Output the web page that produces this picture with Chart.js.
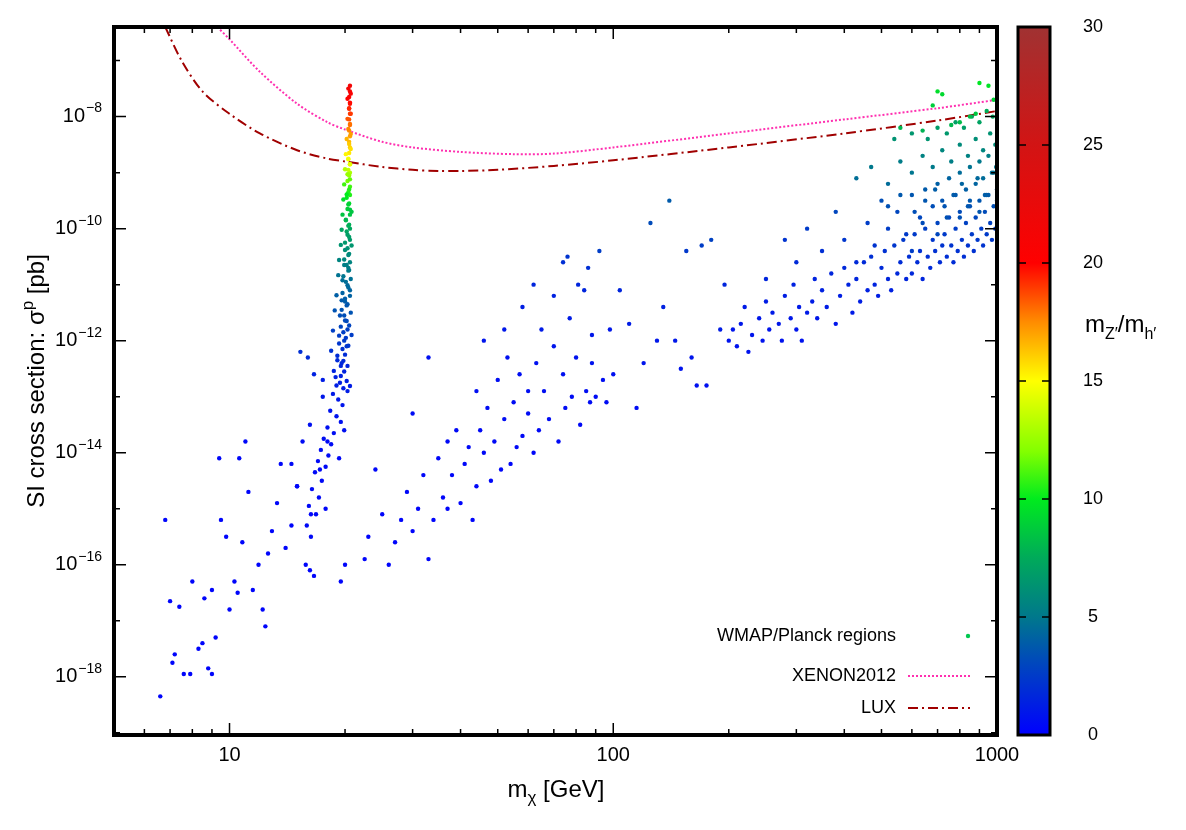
<!DOCTYPE html>
<html><head><meta charset="utf-8">
<script src="https://cdn.jsdelivr.net/npm/chart.js@4"></script>
<style>html,body{margin:0;padding:0;background:#fff}#w{width:1186px;height:830px}</style>
</head><body><div id="w"><canvas id="c"></canvas></div>
<script>
// Points: mass [GeV], log10 sigma [pb], mZ'/mh'
const bandMass = [20.6,20.6,20.5,20.6,20.5,20.6,20.5,20.6,20.5,20.6,20.5,20.6,20.5,20.4,20.6,20.4,20.5,20.3,20.6,20.4,20.2,20.5,20.3,20.6,20.1,20.4,20.2,20.5,20.0,20.3,20.5,19.9,20.2,20.4,19.8,20.1,20.4,19.7,20.0,20.3,19.6,19.9,20.2,19.5,19.8,20.1,19.3,19.7,20.0,19.1,19.5,19.9,18.9,19.4,19.8,18.6,19.2,19.7,18.3,19.0,19.5,18.0,18.7,17.6,18.4,17.3,18.1,17.0,17.8,16.7,17.4,16.4,17.1,16.1,16.8,15.9,16.3];
const bandLog = [-7.45,-7.55,-7.65,-7.75,-7.85,-7.95,-8.05,-8.15,-8.25,-8.35,-8.45,-8.55,-8.65,-8.75,-8.85,-8.95,-9.05,-9.15,-9.25,-9.35,-9.45,-9.55,-9.65,-9.75,-9.85,-9.95,-10.05,-10.15,-10.25,-10.35,-10.45,-10.55,-10.65,-10.75,-10.85,-10.95,-11.05,-11.15,-11.25,-11.35,-11.45,-11.55,-11.65,-11.75,-11.85,-11.95,-12.05,-12.15,-12.25,-12.35,-12.45,-12.55,-12.65,-12.75,-12.85,-12.95,-13.05,-13.15,-13.25,-13.35,-13.45,-13.55,-13.65,-13.75,-13.85,-13.95,-14.05,-14.15,-14.25,-14.35,-14.5,-14.65,-14.8,-14.95,-15.1,-15.3,-15.5];
const bandRatio = [21.5,21,20.5,20,19.5,19,18.5,18,17.5,17,16.5,16,15.5,15,14.5,13.5,12.5,11.8,11,10.5,10,9.5,9,8.5,8,7.6,7.2,6.9,6.6,6.3,6,5.7,5.4,5.1,4.9,4.6,4.4,4.1,3.9,3.7,3.5,3.3,3.1,2.9,2.7,2.5,2.3,2.1,1.9,1.8,1.6,1.5,1.4,1.3,1.2,1.1,1,0.9,0.8,0.8,0.7,0.7,0.6,0.6,0.5,0.5,0.5,0.4,0.4,0.4,0.4,0.4,0.4,0.4,0.4,0.4,0.4];
const band2Mass = [20.4,20.7,20.3,20.6,20.5,20.7,20.3,20.6,20.4,20.7,20.2,20.5,20.7,20.1,20.4,20.6,20.0,20.3,20.6,19.9,20.5,20.2,19.8,20.4,20.6,19.7,20.1,20.5,19.6,20.3,20.6,19.5,20.0,20.4,19.3,19.9,20.5,19.2,19.7,20.3,20.6,19.0,19.6,20.2,18.8,19.4,20.0,20.5,18.6,19.3,19.9,20.4,18.4,19.1,19.8,20.3,18.7,19.5,20.2,20.6];
const band2Log = [-7.5,-7.59,-7.68,-7.77,-7.86,-7.95,-8.04,-8.13,-8.22,-8.31,-8.4,-8.49,-8.58,-8.67,-8.76,-8.85,-8.94,-9.03,-9.12,-9.21,-9.3,-9.39,-9.48,-9.57,-9.66,-9.75,-9.84,-9.93,-10.02,-10.11,-10.2,-10.29,-10.38,-10.47,-10.56,-10.65,-10.74,-10.83,-10.92,-11.01,-11.1,-11.19,-11.28,-11.37,-11.46,-11.55,-11.64,-11.73,-11.82,-11.91,-12.0,-12.09,-12.18,-12.27,-12.36,-12.45,-12.54,-12.63,-12.72,-12.81];
const band2Ratio = [21.2,20.7,20.2,19.8,19.3,19,18.5,18,17.6,17.1,16.6,16.1,15.7,15.2,14.7,14.3,13.2,12.5,11.5,11,10.5,10,9.5,9,8.6,8.5,8,7.6,7.2,6.9,6.7,6.4,6.1,5.8,5.6,5.3,5.1,4.8,4.6,4.4,4.2,4,3.8,3.6,3.5,3.3,3.1,2.9,2.7,2.6,2.5,2.3,2.1,1.9,1.8,1.6,1.5,1.4,1.3,1.2];
const massVals = [
15.3,16.0,16.6,17.5,16.2,15.5,14.5,15.0,19.0,20.3,20.6,20.6,20.6,20.6,20.3,19.9,20.7,20.7,20.8,20.2,20.8,20.0,19.6,20.8,20.6,20.4,
6.6,6.8,7.0,7.2,7.1,7.4,7.6,7.9,8.0,8.3,8.5,8.6,8.8,9.0,9.2,9.0,9.4,9.5,9.8,10.0,10.3,10.5,10.6,11.0,11.2,10.8,11.5,11.9,12.2,12.4,12.6,12.9,13.3,13.6,14.0,14.5,15.0,15.8,16.2,16.6,16.3,17.2,17.5,18.0,19.3,19.5,20.0,17.8,
22.5,23,24,25,26,27,28,29,30,31,32,33,34,35,36,37,38,39,40,41,42,43,44,45,46,47,48,49,50,51,52,53,54,55,56,57,58,60,62,63,64,66,68,70,72,74,75,77,78,80,82,84,85,87,88,90,92,94,96,98,100,30,33,37,44,46,52,58,60,62,65,70,74,76,81,86,88,104,110,115,120,125,130,135,140,145,150,155,160,165,170,175,180,190,195,
200,205,210,215,220,225,230,240,245,250,255,260,270,275,280,290,295,300,305,310,320,330,335,340,350,360,370,380,390,400,410,420,430,440,450,460,470,480,490,500,510,520,530,540,550,560,570,580,590,600,610,620,630,640,650,660,670,680,690,700,710,720,730,740,750,760,770,780,790,800,810,820,830,840,850,860,870,880,890,900,910,920,930,940,950,960,970,980,990,1000,
250,280,300,320,350,380,400,430,460,480,500,520,550,580,600,630,650,680,700,720,750,780,800,830,850,880,900,920,950,980,
430,470,520,560,600,640,680,720,760,800,840,880,920,960,990,
540,600,660,700,740,780,820,860,900,940,975,
700,720,680,900,950,880,800,760,980,850,640,560,
520,560,610,650,690,730,770,810,850,890,930,970,995,600,700,800,900,1000,640,740,840,940
];
const logSigma = [
-12.2,-12.3,-12.6,-13.0,-13.5,-13.8,-14.2,-14.6,-12.8,-11.8,-11.2,-10.6,-10.0,-9.4,-12.9,-13.6,-11.5,-10.9,-10.3,-12.1,-11.9,-11.3,-12.4,-9.7,-9.0,-10.7,
-18.35,-15.2,-16.65,-17.6,-17.75,-16.75,-17.95,-17.95,-16.3,-17.5,-17.4,-16.6,-17.85,-16.45,-17.3,-17.95,-14.1,-15.2,-15.5,-16.8,-16.3,-16.5,-14.1,-13.8,-14.7,-15.6,-16.45,-16.0,-16.8,-17.1,-15.8,-15.4,-14.9,-14.2,-15.7,-15.3,-14.6,-16.0,-16.1,-16.2,-15.1,-14.3,-12.7,-13.8,-14.1,-16.3,-16.0,-15.0,
-15.9,-15.5,-14.3,-15.1,-16.0,-15.6,-15.2,-14.7,-15.4,-15.0,-14.4,-15.9,-15.2,-14.1,-14.8,-15.0,-14.4,-13.6,-14.9,-14.2,-13.9,-15.2,-14.6,-13.6,-14.0,-13.2,-14.5,-13.8,-12.7,-14.3,-13.4,-12.3,-14.2,-13.1,-13.9,-12.6,-13.7,-13.3,-14.0,-12.4,-13.6,-12.9,-13.4,-12.1,-13.8,-12.6,-13.2,-11.6,-13.0,-12.3,-13.5,-11.1,-12.9,-13.1,-12.4,-13.0,-10.4,-12.7,-13.1,-11.8,-12.6,-13.3,-12.3,-13.8,-12.9,-12.0,-11.8,-11.4,-12.9,-11.0,-11.8,-11.2,-10.6,-10.5,-11.0,-10.7,-11.9,-11.1,-11.7,-13.2,-12.4,-9.9,-12.0,-11.4,-9.5,-12.0,-12.5,-10.4,-12.3,-12.8,-10.3,-12.8,-10.2,-11.8,-11.0,
-12.0,-11.8,-12.1,-11.7,-11.4,-12.2,-11.9,-11.6,-12.0,-11.3,-11.8,-11.5,-11.7,-12.0,-11.2,-11.6,-11.0,-11.8,-11.4,-12.0,-11.5,-11.3,-10.9,-11.6,-11.1,-11.4,-10.8,-11.7,-11.2,-10.7,-11.0,-11.5,-10.9,-11.3,-10.6,-11.1,-10.5,-11.0,-11.2,-10.7,-10.4,-10.9,-11.1,-10.3,-10.8,-10.6,-10.2,-10.9,-10.5,-10.8,-10.1,-10.6,-10.4,-10.9,-10.0,-10.5,-10.7,-10.2,-10.4,-9.9,-10.6,-10.3,-10.1,-10.5,-9.8,-10.3,-10.6,-10.0,-10.4,-9.7,-10.2,-10.5,-9.9,-10.3,-9.6,-10.1,-10.4,-9.8,-10.2,-9.5,-10.0,-10.3,-9.7,-10.1,-9.4,-9.9,-10.2,-9.6,-10.0,-9.3,
-10.9,-10.2,-10.6,-10.0,-10.4,-9.7,-10.2,-10.6,-9.9,-10.3,-9.5,-10.0,-9.7,-10.1,-9.4,-9.8,-9.3,-9.6,-9.2,-9.5,-9.1,-9.4,-9.0,-9.3,-8.9,-9.2,-8.8,-9.1,-8.7,-9.0,
-9.1,-8.9,-9.2,-8.8,-9.0,-8.7,-8.9,-8.6,-8.8,-8.5,-8.7,-8.4,-8.6,-8.3,-8.5,
-8.4,-8.3,-8.4,-8.2,-8.3,-8.1,-8.2,-8.0,-8.1,-7.9,-8.0,
-7.55,-7.6,-7.8,-7.4,-7.45,-7.95,-8.1,-8.15,-7.7,-8.0,-8.25,-8.2,
-9.6,-9.4,-9.7,-9.5,-9.3,-9.6,-9.4,-9.2,-9.5,-9.1,-9.4,-9.0,-8.9,-10.4,-10.1,-9.8,-9.7,-9.5,-9.9,-9.8,-9.6,-9.4
];
const ratioVals = [
2.0,1.9,1.4,1.0,0.7,0.5,0.4,0.4,1.3,2.7,4.1,5.6,7.3,10.5,1.2,0.7,3.5,4.7,6.5,2.3,2.6,3.9,1.7,8.5,13,5.3,
0.2,0.2,0.2,0.2,0.2,0.2,0.2,0.2,0.2,0.2,0.2,0.2,0.2,0.2,0.2,0.2,0.3,0.2,0.2,0.2,0.2,0.2,0.3,0.3,0.2,0.2,0.2,0.2,0.2,0.2,0.2,0.2,0.3,0.3,0.2,0.2,0.3,0.2,0.2,0.2,0.2,0.3,1.2,0.4,0.3,0.2,0.2,0.3,
0.2,0.2,0.3,0.2,0.2,0.2,0.2,0.3,0.2,0.2,0.3,0.2,0.2,0.3,0.2,0.2,0.3,0.4,0.2,0.3,0.4,0.2,0.3,0.4,0.4,0.5,0.3,0.4,0.6,0.3,0.5,0.7,0.3,0.5,0.4,0.6,0.4,0.5,0.3,0.7,0.4,0.6,0.5,0.9,0.4,0.7,0.5,1.2,0.5,0.8,0.4,1.6,0.6,0.5,0.8,0.5,2.6,0.6,0.5,1.0,0.7,0.5,0.7,0.4,0.6,0.9,1.0,1.3,0.6,1.6,1.1,1.4,2.0,2.2,1.6,2.0,1.0,1.6,1.2,0.5,0.9,3.2,1.0,1.4,3.8,1.0,0.8,2.4,0.9,0.7,2.6,0.7,2.8,1.2,1.6,
0.8,0.9,0.8,1.0,1.1,0.8,0.9,1.0,0.8,1.2,0.9,1.1,1.0,0.8,1.3,1.0,1.4,0.9,1.1,0.8,1.1,1.2,1.5,1.0,1.4,1.2,1.6,0.9,1.3,1.7,1.5,1.1,1.6,1.3,1.8,1.4,2.0,1.5,1.3,1.8,2.1,1.6,1.4,2.3,1.7,1.9,2.4,1.6,2.0,1.7,2.5,1.9,2.1,1.6,2.7,2.0,1.8,2.3,2.1,2.9,1.9,2.2,2.5,2.0,3.0,2.2,1.9,2.6,2.1,3.2,2.3,2.0,2.8,2.2,3.4,2.5,2.1,3.0,2.4,3.6,2.6,2.2,3.2,2.5,3.8,2.8,2.4,3.4,2.6,4.0,
1.6,2.2,1.8,2.5,2.0,3.0,2.3,1.8,2.6,2.2,3.3,2.6,3.0,2.5,3.6,3.0,3.8,3.3,4.0,3.5,4.2,3.7,4.5,4.0,4.8,4.2,5.0,4.5,5.3,4.8,
4.6,5.0,4.5,5.2,4.9,5.5,5.1,5.7,5.3,5.9,5.5,6.1,5.7,6.3,6.0,
6.3,6.5,6.4,6.8,6.6,7.0,6.9,7.3,7.1,7.6,7.4,
9.5,9.3,8.8,9.8,9.7,8.6,8.2,8.0,9.0,8.3,7.8,7.9,
3.4,3.7,3.3,3.6,3.9,3.5,3.8,4.2,3.7,4.4,3.9,4.6,4.9,2.6,3.0,3.4,3.6,3.8,3.2,3.4,3.6,3.9
];
const xenonMass = [9.3,10,12,15,18,20,25,30,40,55,70,100,200,400,700,1000];
const xenonLog = [-6.4,-6.62,-7.2,-7.77,-8.1,-8.23,-8.45,-8.55,-8.63,-8.67,-8.66,-8.55,-8.3,-8.05,-7.85,-7.7];
const luxMass = [6.8,7.5,8.5,10,12,15,18,20,25,30,35,40,50,70,100,200,400,700,1000];
const luxLog = [-6.4,-7.0,-7.55,-7.95,-8.3,-8.6,-8.75,-8.8,-8.9,-8.95,-8.97,-8.97,-8.95,-8.88,-8.78,-8.55,-8.3,-8.07,-7.9];
const xTickVals = [10,100,1000];
const yTickExps = [-8,-10,-12,-14,-16,-18];
const cbTicks = [0,5,10,15,20,25,30];

const stops = [[0,[0,0,255]],[3,[0,70,190]],[5,[0,120,140]],[7.5,[0,170,90]],[10,[0,235,30]],[12,[130,255,0]],[15,[255,255,0]],[17.5,[255,140,0]],[20,[255,0,0]],[25,[210,20,20]],[30,[160,50,50]]];
function cmap(v){
  for(let i=1;i<stops.length;i++){ if(v<=stops[i][0]){const a=stops[i-1],b=stops[i];const t=(v-a[0])/(b[0]-a[0]);
    const c=a[1].map((x,k)=>Math.round(x+(b[1][k]-x)*t));return `rgb(${c[0]},${c[1]},${c[2]})`;} }
  return 'rgb(160,50,50)';
}
const allM = massVals.concat(bandMass, band2Mass);
const allL = logSigma.concat(bandLog, band2Log);
const allR = ratioVals.concat(bandRatio, band2Ratio);
const pts = allM.map((m,i)=>({x:m,y:Math.pow(10,allL[i])}));
const cols = allR.map(v=>cmap(v===undefined?0:v));
const FONT='"Liberation Sans", Arial, sans-serif';

function seq(c,x,y,parts){ // parts: [text, size, dy]
  parts.forEach(p=>{ c.font=p[1]+'px '+FONT; c.fillText(p[0],x,y+p[2]); x+=c.measureText(p[0]).width; });
}
function seqW(c,parts){ let w=0; parts.forEach(p=>{c.font=p[1]+'px '+FONT; w+=c.measureText(p[0]).width;}); return w; }

const deco = {
  id:'deco',
  afterDraw(ch){
    const c=ch.ctx, a=ch.chartArea, xs=ch.scales.x, ys=ch.scales.y;
    c.save();
    c.strokeStyle='#000'; c.lineWidth=1.5;
    for(let d=1;d<=3;d++){ for(let k=1;k<10;k++){ const val=Math.pow(10,d-1)*k; if(val<5||val>1000) continue;
      const p=xs.getPixelForValue(val); const L=(k===1)?12:6;
      c.beginPath(); c.moveTo(p,a.bottom); c.lineTo(p,a.bottom-L); c.moveTo(p,a.top); c.lineTo(p,a.top+L); c.stroke(); } }
    for(let e=-19;e<=-7;e++){ const p=ys.getPixelForValue(Math.pow(10,e)); const L=(e%2===0)?12:6;
      c.beginPath(); c.moveTo(a.left,p); c.lineTo(a.left+L,p); c.moveTo(a.right,p); c.lineTo(a.right-L,p); c.stroke(); }
    c.fillStyle='#000'; c.font='20px '+FONT; c.textAlign='center'; c.textBaseline='top';
    xTickVals.forEach(v=>c.fillText(String(v), xs.getPixelForValue(v), a.bottom+10));
    yTickExps.forEach(e=>{ const p=ys.getPixelForValue(Math.pow(10,e));
      c.font='14px '+FONT; c.textAlign='right'; c.textBaseline='middle';
      const sup='\u2212'+String(-e); const w=c.measureText(sup).width;
      c.fillText(sup, a.left-12, p-8);
      c.font='20px '+FONT; c.fillText('10', a.left-12-w-1, p); });
    c.lineWidth=4; c.strokeRect(a.left,a.top,a.right-a.left,a.bottom-a.top);
    // axis titles
    c.textAlign='left'; c.textBaseline='alphabetic';
    let xp=[['m',24,0],['\u03c7',17,6],[' [GeV]',24,0]];
    seq(c, 556-seqW(c,xp)/2, 797, xp);
    c.save(); c.translate(44,381); c.rotate(-Math.PI/2);
    let yp=[['SI cross section: \u03c3',24,0],['p',17,-11],[' [pb]',24,0]];
    seq(c, -seqW(c,yp)/2, 0, yp); c.restore();
    // legend
    c.font='18px '+FONT; c.textAlign='right'; c.textBaseline='middle';
    c.fillText('WMAP/Planck regions',896,636); c.fillText('XENON2012',896,676); c.fillText('LUX',896,708);
    c.fillStyle='rgb(0,200,80)'; c.beginPath(); c.arc(968,636,2.2,0,7); c.fill();
    c.strokeStyle='#ff30b0'; c.lineWidth=2; c.setLineDash([2,2]); c.beginPath(); c.moveTo(908,676); c.lineTo(970,676); c.stroke();
    c.strokeStyle='#a00000'; c.setLineDash([10,4,2,4]); c.beginPath(); c.moveTo(908,708); c.lineTo(970,708); c.stroke(); c.setLineDash([]);
    // colorbar
    const bx=1018,bw=32,bt=27,bb=735;
    const g=c.createLinearGradient(0,bb,0,bt); stops.forEach(s=>g.addColorStop(s[0]/30,cmap(s[0])));
    c.fillStyle=g; c.fillRect(bx,bt,bw,bb-bt);
    c.strokeStyle='#000'; c.lineWidth=3; c.strokeRect(bx,bt,bw,bb-bt);
    c.fillStyle='#000'; c.font='18px '+FONT; c.textAlign='center'; c.lineWidth=1.5;
    cbTicks.forEach(v=>{ const p=bb-(bb-bt)*v/30; c.fillText(String(v),1093,p);
      c.beginPath(); c.moveTo(bx,p); c.lineTo(bx+8,p); c.moveTo(bx+bw,p); c.lineTo(bx+bw-8,p); c.stroke(); });
    c.textAlign='left'; c.textBaseline='alphabetic';
    seq(c,1085,332,[['m',24,0],['Z\u2032',16,7],['/m',24,0],['h\u2032',16,7]]);
    c.restore();
  }
};

new Chart(document.getElementById('c'),{
  type:'scatter',
  data:{datasets:[
    {data:pts, pointBackgroundColor:cols, pointBorderWidth:0, pointRadius:2.2, showLine:false},
    {data:xenonMass.map((m,i)=>({x:m,y:Math.pow(10,xenonLog[i])})), showLine:true, pointRadius:0, borderColor:'#ff30b0', borderWidth:2, borderDash:[2,2], tension:0.3},
    {data:luxMass.map((m,i)=>({x:m,y:Math.pow(10,luxLog[i])})), showLine:true, pointRadius:0, borderColor:'#a00000', borderWidth:2, borderDash:[10,4,2,4], tension:0.3}
  ]},
  options:{responsive:true, maintainAspectRatio:false, animation:false,
    layout:{padding:{left:114,right:189,top:27,bottom:95}},
    plugins:{legend:{display:false},tooltip:{enabled:false}},
    scales:{
      x:{type:'logarithmic',min:5,max:1000,display:false},
      y:{type:'logarithmic',min:Math.pow(10,-19.04),max:Math.pow(10,-6.4),display:false}
    }},
  plugins:[deco]
});
</script></body></html>
